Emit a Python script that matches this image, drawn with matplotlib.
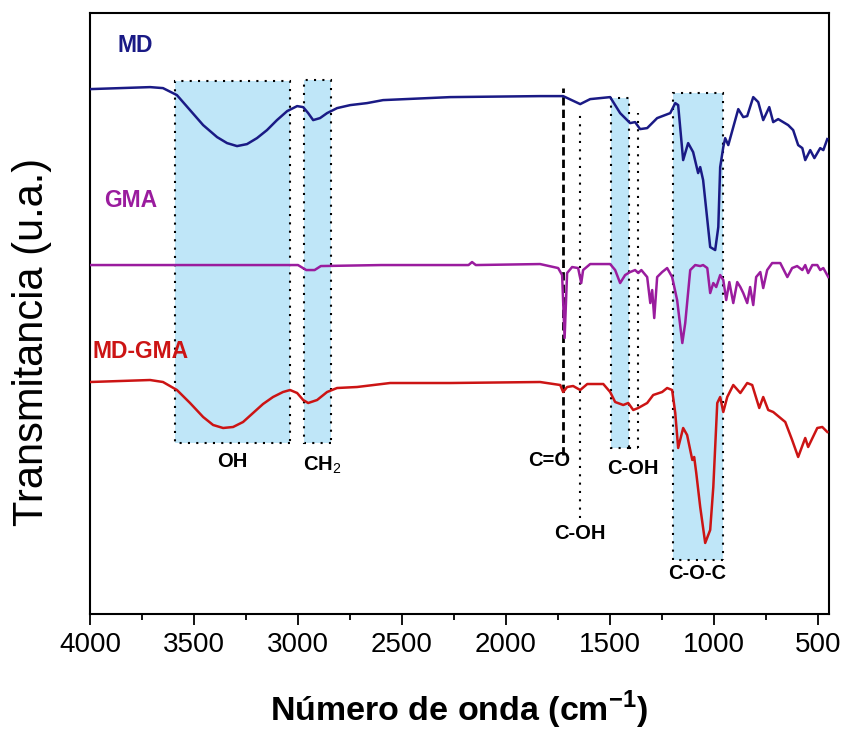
import matplotlib
matplotlib.use('Agg')
import matplotlib.pyplot as plt
from matplotlib.patches import Rectangle

plt.rcParams['font.family'] = ['Liberation Sans', 'DejaVu Sans']
plt.rcParams['mathtext.fontset'] = 'custom'
plt.rcParams['mathtext.rm'] = 'Liberation Sans'
plt.rcParams['mathtext.bf'] = 'Liberation Sans:bold'

# wavenumber (cm-1) and transmittance (arbitrary, offset)
md_x = [4000, 3711, 3649, 3582, 3519, 3456, 3389, 3341, 3293, 3245, 3197, 3149, 3101,
        3052, 3004, 2975, 2951, 2927, 2894, 2860, 2812, 2749, 2668, 2591, 2268, 1836,
        1725, 1643, 1595, 1499, 1451, 1403, 1379, 1355, 1321, 1273, 1210, 1186, 1172,
        1148, 1124, 1100, 1076, 1066, 1052, 1018, 994, 979, 970, 955, 946, 931, 907,
        883, 859, 840, 811, 787, 763, 734, 715, 691, 643, 619, 595, 575, 561, 537, 517,
        489, 474, 455]
md_y = [525, 527, 526, 519, 504, 489, 477, 471, 468, 470, 476, 484, 494,
        503, 508, 507, 501, 494, 496, 501, 506, 509, 511, 514, 517, 518,
        518, 510, 515, 517, 501, 491, 492, 485, 486, 496, 501, 511, 509,
        454, 471, 462, 441, 447, 434, 367, 364, 387, 447, 467, 476, 469, 487,
        505, 497, 498, 517, 512, 494, 507, 492, 495, 489, 484, 469, 466, 454, 464, 456,
        466, 464, 475]

gma_x = [4000, 3000, 2960, 2920, 2890, 2600, 2180, 2163, 2145, 1836, 1749, 1730, 1718,
         1706, 1682, 1653, 1638, 1629, 1595, 1499, 1475, 1451, 1427, 1403, 1379, 1364,
         1349, 1321, 1306, 1297, 1287, 1273, 1249, 1225, 1201, 1177, 1152, 1138, 1114,
         1090, 1066, 1052, 1032, 1018, 1003, 989, 970, 955, 941, 926, 907, 888, 873, 859,
         840, 826, 811, 797, 777, 763, 744, 720, 681, 647, 624, 600, 575, 561, 547, 527,
         503, 489, 474, 450]
gma_y = [349, 349, 344, 344, 348, 349, 349, 352, 349, 350, 346, 339, 276,
         341, 347, 346, 331, 344, 350, 350, 344, 331, 339, 342, 344, 341,
         344, 337, 311, 324, 296, 337, 342, 346, 337, 314, 271, 291, 344,
         349, 348, 349, 346, 321, 331, 327, 339, 334, 314, 332, 311, 332, 327, 321,
         311, 327, 309, 337, 342, 326, 344, 351, 351, 337, 346, 348, 344, 349, 341, 349,
         349, 344, 346, 337]

mdgma_x = [4000, 3711, 3649, 3582, 3519, 3456, 3408, 3360, 3312, 3264, 3216, 3168, 3120,
           3072, 3038, 3004, 2975, 2951, 2908, 2860, 2812, 2716, 2557, 2268, 1836, 1739,
           1725, 1706, 1677, 1643, 1609, 1532, 1499, 1475, 1436, 1412, 1388, 1364, 1321,
           1292, 1249, 1225, 1201, 1186, 1172, 1148, 1129, 1104, 1095, 1085, 1066, 1042,
           1018, 1003, 984, 970, 955, 936, 907, 873, 840, 816, 782, 763, 739, 715, 657,
           624, 595, 561, 547, 503, 479, 455]
mdgma_y = [232, 234, 232, 224, 211, 197, 189, 186, 187, 192, 201, 210, 217,
           222, 224, 221, 214, 211, 214, 222, 226, 227, 231, 231, 232, 229,
           222, 227, 228, 224, 230, 230, 222, 212, 209, 211, 204, 206, 211,
           219, 222, 226, 224, 201, 166, 186, 179, 154, 157, 141, 107, 71,
           84, 127, 211, 217, 202, 217, 229, 221, 231, 229, 206, 217, 204, 202, 192,
           174, 157, 176, 167, 186, 187, 182]

# shaded bands: (left, right, bottom, top)
bands = [(3590, 3040, 171, 533), (2971, 2842, 171, 534),
         (1495, 1408, 166, 516), (1195, 955, 54, 521)]

band_labels = ['OH', 'CH$_2$', 'C=O', 'C-OH', 'C-OH', 'C-O-C']
band_label_x = [3317, 2884, 1792, 1643, 1388, 1080]
band_label_y = [152, 149, 153, 80, 145, 40]

series_names = ['MD', 'GMA', 'MD-GMA']
series_colors = ['#1a1a85', '#9a1c9e', '#cc1414']

fig = plt.figure(figsize=(8.45, 7.3), dpi=100)
ax = fig.add_axes([0.1065, 0.159, 0.8745, 0.823])

dots = (0, (1, 3))
for left, right, bottom, top in bands:
    ax.add_patch(Rectangle((right, bottom), left - right, top - bottom,
                           facecolor='#bfe6f8', edgecolor='black', lw=1.5,
                           linestyle=dots, zorder=0))

# extra marker lines
ax.plot([1365, 1365], [166, 501], color='black', lw=1.5, linestyle=dots, zorder=1)
ax.plot([1408, 1365], [166, 166], color='black', lw=1.5, linestyle=dots, zorder=1)
ax.plot([1643, 1643], [96, 501], color='black', lw=1.5, linestyle=dots, zorder=1)
ax.plot([1725, 1725], [159, 526], color='black', lw=2, linestyle=(0, (3, 1.5)), zorder=1)

for xs, ys, c in zip([md_x, gma_x, mdgma_x], [md_y, gma_y, mdgma_y], series_colors):
    ax.plot(xs, ys, color=c, lw=1.8, zorder=3, solid_joinstyle='round')

ax.text(3870, 569, series_names[0], color=series_colors[0], fontsize=16.5,
        fontweight='bold', va='center', ha='left')
ax.text(3930, 414, series_names[1], color=series_colors[1], fontsize=16.5,
        fontweight='bold', va='center', ha='left')
ax.text(3986, 263, series_names[2], color=series_colors[2], fontsize=16.5,
        fontweight='bold', va='center', ha='left')

for lab, lx, ly in zip(band_labels, band_label_x, band_label_y):
    ax.text(lx, ly, lab, fontsize=14.5, fontweight='bold', ha='center', va='center', zorder=4)

ax.set_xlim(4000, 447)
ax.set_ylim(0, 601)
ax.set_xticks([4000, 3500, 3000, 2500, 2000, 1500, 1000, 500])
ax.set_xticks(range(3750, 400, -500), minor=True)
ax.set_yticks([])
ax.tick_params(axis='x', which='major', direction='out', length=8, width=1.3,
               labelsize=20, pad=5)
ax.tick_params(axis='x', which='minor', direction='out', length=4.5, width=1.3)
for s in ax.spines.values():
    s.set_linewidth(1.5)

ax.set_xlabel('Número de onda (cm$^{\\mathbf{-1}}$)', fontsize=24.5, fontweight='bold',
              labelpad=22)
ax.set_ylabel('Transmitancia (u.a.)', fontsize=30)
ax.yaxis.set_label_coords(-0.052, 0.4526)

fig.savefig('out.png', dpi=100)
